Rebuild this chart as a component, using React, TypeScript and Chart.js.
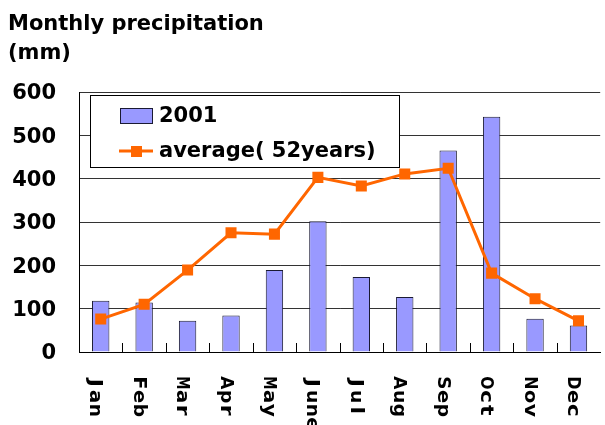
import React, { useEffect, useRef } from "react";
import { Chart, registerables } from "chart.js";

Chart.register(...registerables);

const months = ["Jan", "Feb", "Mar", "Apr", "May", "June", "Jul", "Aug", "Sep", "Oct", "Nov", "Dec"];
const precip2001 = [118, 114, 72, 84, 189, 302, 173, 127, 465, 543, 77, 61];
const average52 = [76, 110, 189, 275, 272, 403, 383, 411, 424, 182, 123, 72];
const yMin = 0;
const yMax = 600;
const yStep = 100;
const titleLine1 = "Monthly precipitation";
const titleLine2 = "(mm)";
const barLabel = "2001";
const lineLabel = "average( 52years)";

const FONT = "'DejaVu Sans', 'Noto Sans CJK JP', sans-serif";
const BAR_FILL = "#9999FF";
const BAR_EDGE = "#1a1a33";
const LINE_COLOR = "#FF6600";

const decorPlugin = {
  id: "decor",
  afterDraw(chart: any) {
    const ctx = chart.ctx;
    const area = chart.chartArea;
    const xs = chart.scales.x;
    ctx.save();
    // title
    ctx.fillStyle = "#000";
    ctx.font = `bold 21px ${FONT}`;
    ctx.textAlign = "left";
    ctx.textBaseline = "alphabetic";
    ctx.fillText(titleLine1, 8, 30);
    ctx.fillText(titleLine2, 8, 59);

    // x tick marks between categories
    ctx.strokeStyle = "#000";
    ctx.lineWidth = 1;
    const n = months.length;
    const cw = (area.right - area.left) / n;
    ctx.beginPath();
    for (let i = 1; i < n; i++) {
      const x = Math.round(area.left + i * cw) + 0.5;
      ctx.moveTo(x, area.bottom - 9);
      ctx.lineTo(x, area.bottom);
    }
    ctx.stroke();

    // x labels rotated clockwise, fixed pitch characters
    ctx.font = `bold 17px ${FONT}`;
    ctx.textAlign = "center";
    ctx.textBaseline = "middle";
    const pitch = 13.7;
    months.forEach((m, i) => {
      const cx = xs.getPixelForValue(i) - 6;
      for (let k = 0; k < m.length; k++) {
        const ch = m[k];
        const w = ctx.measureText(ch).width;
        const sx = Math.min(1.3, (pitch - 0.5) / w);
        ctx.save();
        ctx.translate(cx, 376 + pitch * (k + 0.5));
        ctx.rotate(Math.PI / 2);
        ctx.scale(sx, 1);
        ctx.fillText(ch, 0, 0);
        ctx.restore();
      }
    });

    // legend
    const lx = 90.5, ly = 95.5, lw = 309, lh = 72;
    ctx.fillStyle = "#fff";
    ctx.fillRect(lx, ly, lw, lh);
    ctx.strokeStyle = "#000";
    ctx.lineWidth = 1;
    ctx.strokeRect(lx, ly, lw, lh);
    ctx.fillStyle = BAR_FILL;
    ctx.fillRect(120.5, 108.5, 32, 15);
    ctx.strokeStyle = BAR_EDGE;
    ctx.strokeRect(120.5, 108.5, 32, 15);
    ctx.strokeStyle = LINE_COLOR;
    ctx.lineWidth = 3;
    ctx.beginPath();
    ctx.moveTo(119, 151);
    ctx.lineTo(153, 151);
    ctx.stroke();
    ctx.fillStyle = LINE_COLOR;
    ctx.fillRect(131, 146, 11, 11);
    ctx.fillStyle = "#000";
    ctx.font = `bold 21px ${FONT}`;
    ctx.textAlign = "left";
    ctx.textBaseline = "middle";
    ctx.fillText(barLabel, 159, 117);
    ctx.fillText(lineLabel, 159, 152);
    ctx.restore();
  },
};

export default function App() {
  const ref = useRef<HTMLCanvasElement>(null);
  useEffect(() => {
    if (!ref.current) return;
    const chart = new Chart(ref.current, {
      type: "bar",
      data: {
        labels: months,
        datasets: [
          {
            type: "line",
            label: lineLabel,
            data: average52,
            borderColor: LINE_COLOR,
            backgroundColor: LINE_COLOR,
            borderWidth: 3,
            pointStyle: "rect",
            pointRadius: 7.8,
            pointBorderWidth: 0,
            pointHoverRadius: 7.8,
            tension: 0,
            order: 0,
          } as any,
          {
            type: "bar",
            label: barLabel,
            data: precip2001,
            backgroundColor: BAR_FILL,
            borderColor: BAR_EDGE,
            borderWidth: 1,
            barPercentage: 0.4,
            categoryPercentage: 1,
            order: 1,
          },
        ],
      },
      options: {
        animation: false,
        responsive: true,
        maintainAspectRatio: false,
        layout: { padding: { top: 92, bottom: 73, left: 0, right: 0 } },
        plugins: {
          legend: { display: false },
          tooltip: { enabled: false },
        },
        scales: {
          x: {
            offset: true,
            ticks: { display: false },
            grid: { display: false },
            border: { display: true, color: "#000", width: 1 },
            afterFit: (s: any) => {
              s.height = 0;
            },
          },
          y: {
            min: yMin,
            max: yMax,
            ticks: {
              stepSize: yStep,
              color: "#000",
              font: { family: FONT, size: 21, weight: "bold" },
              padding: 23,
              labelOffset: 2,
            },
            grid: { color: "#333", lineWidth: 1, drawTicks: false },
            border: { display: true, color: "#000", width: 1 },
            afterFit: (s: any) => {
              s.width = 79;
            },
          },
        },
      },
      plugins: [decorPlugin],
    });
    return () => chart.destroy();
  }, []);
  return (
    <div style={{ position: "fixed", left: 0, top: 0, width: 605, height: 425, overflow: "hidden", background: "#fff" }}>
      <div style={{ position: "relative", width: 608, height: 425 }}>
        <canvas ref={ref} />
      </div>
    </div>
  );
}
